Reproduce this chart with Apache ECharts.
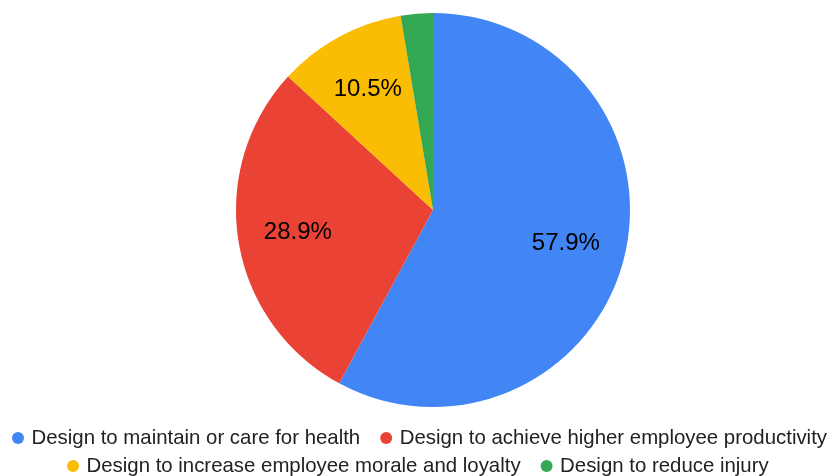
<!DOCTYPE html>
<html><head><meta charset="utf-8">
<script src="https://cdn.jsdelivr.net/npm/echarts@6/dist/echarts.min.js"></script>
<style>html,body{margin:0;padding:0;background:#fff}#c{width:833px;height:476px}</style>
</head><body><div id="c"></div>
<script>
const categories = ['Design to maintain or care for health','Design to achieve higher employee productivity','Design to increase employee morale and loyalty','Design to reduce injury'];
const values = [22, 11, 4, 1];
const colors = ['#4285f4','#ea4335','#fbbc04','#34a853'];
const hideLabel = [false, false, false, true];

const total = values.reduce((a,b)=>a+b,0);
const chart = echarts.init(document.getElementById('c'));
const pieData = categories.map((n,i)=>({name:n, value:values[i], itemStyle:{color:colors[i]}}));
const labelData = categories.map((n,i)=>({name:n, value:values[i], itemStyle:{color:'rgba(0,0,0,0)'}, label:{show:!hideLabel[i]}}));
const legendCommon = {icon:'circle', itemWidth:17, itemHeight:12, itemGap:20, padding:0,
  textStyle:{fontFamily:'Liberation Sans', fontSize:20.4, color:'#222'}};
chart.setOption({
  animation:false,
  color: colors,
  legend:[
    Object.assign({left:12, top:428, data:categories.slice(0,2)}, legendCommon),
    Object.assign({left:67, top:456, data:categories.slice(2,4)}, legendCommon)
  ],
  series:[
    {type:'pie', center:[433,210], radius:[0,197], startAngle:90, clockwise:true,
     data:pieData, label:{show:false}, labelLine:{show:false}, silent:true},
    {type:'pie', center:[433,210], radius:[71,197], startAngle:90, clockwise:true,
     data:labelData, silent:true, labelLine:{show:false},
     label:{position:'inside', formatter:p=>(p.value/total*100).toFixed(1)+'%', color:'#000', fontFamily:'Liberation Sans', fontSize:24}}
  ]
});
</script></body></html>
